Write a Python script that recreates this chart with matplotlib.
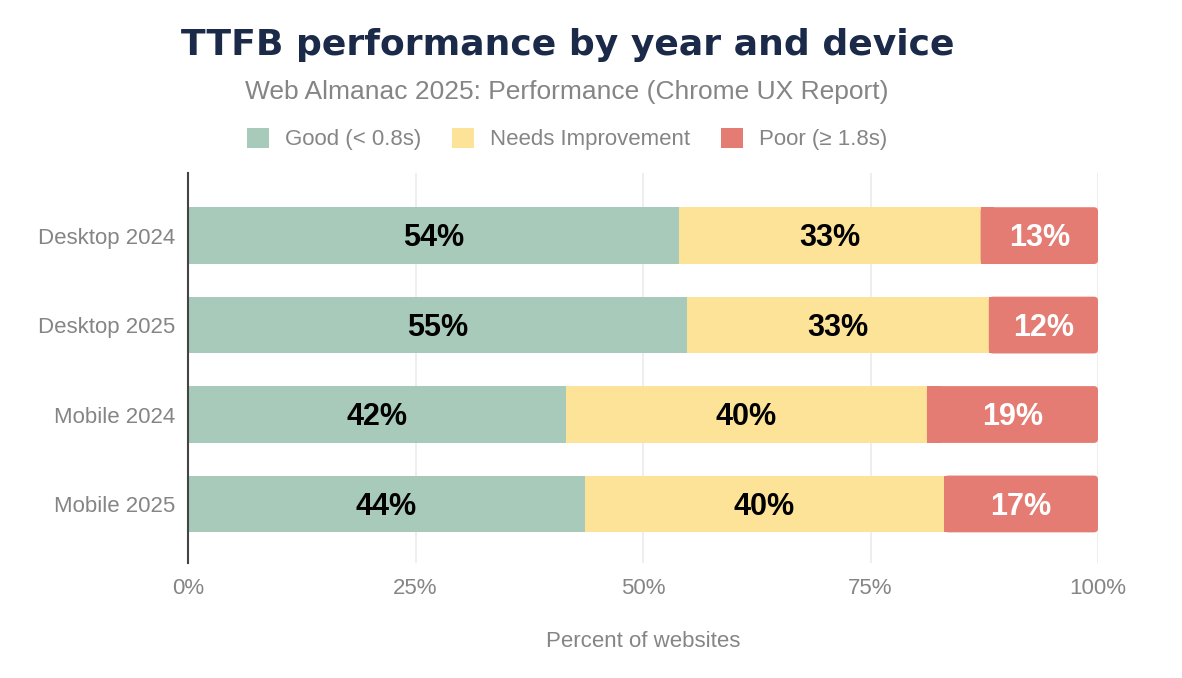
import numpy as np
import matplotlib
matplotlib.use("Agg")
import matplotlib.pyplot as plt
from matplotlib.patches import FancyBboxPatch, Patch

# data
categories = ["Desktop 2024", "Desktop 2025", "Mobile 2024", "Mobile 2025"]
good = [54.0, 54.8, 41.5, 43.6]
needs = [33.1, 33.2, 39.7, 39.5]
poor = [12.9, 12.0, 18.8, 16.9]
series_names = ["Good (< 0.8s)", "Needs Improvement", "Poor (≥ 1.8s)"]
colors = ["#a8cabb", "#fde397", "#e57c73"]
label_colors = ["black", "black", "white"]
xticks = [0, 25, 50, 75, 100]

plt.rcParams['font.family'] = ['Liberation Sans', 'DejaVu Sans']
grey = "#858585"

fig = plt.figure(figsize=(11.82, 6.78), dpi=100)
ax = fig.add_axes([188/1182, 1-563/678, 910/1182, 390/678])

bar_h = 0.635
y = np.arange(len(categories))
left = np.zeros(len(categories))
for i, (vals, col, lc) in enumerate(zip([good, needs, poor], colors, label_colors)):
    vals = np.array(vals)
    if i < 2:
        ax.barh(y, vals, left=left, height=bar_h, color=col, linewidth=0, zorder=2)
    else:
        # last segment: rounded right corners, square left side
        for yi, l, v in zip(y, left, vals):
            ax.add_patch(FancyBboxPatch((l, yi - bar_h/2), v, bar_h,
                                        boxstyle="round,pad=0,rounding_size=0.45",
                                        mutation_aspect=0.1, linewidth=0,
                                        facecolor=col, zorder=2))
        ax.barh(y, np.full(len(y), 1.5), left=left, height=bar_h, color=col,
                linewidth=0, zorder=2)
    for yi, l, v in zip(y, left, vals):
        ax.text(l + v/2, yi + 0.03, f"{round(v):.0f}%", ha='center', va='center',
                fontsize=22, fontweight='bold', color=lc, zorder=3)
    left = left + vals

ax.set_xlim(0, 100)
ax.set_ylim(3.66, -0.70)
ax.set_yticks(y)
ax.set_yticklabels(categories, fontsize=16, color=grey)
ax.set_xticks(xticks)
ax.set_xticklabels([f"{t}%" for t in xticks], fontsize=16, color=grey)
ax.tick_params(length=0)
ax.tick_params(axis='y', pad=9)
ax.tick_params(axis='x', pad=11)
ax.grid(axis='x', color="#ebebeb", linewidth=1.2, zorder=0)
for s in ['top', 'right', 'bottom']:
    ax.spines[s].set_visible(False)
ax.spines['left'].set_color("#444444")
ax.spines['left'].set_linewidth(1.5)
ax.spines['left'].set_zorder(4)
ax.set_xlabel("Percent of websites", fontsize=16, color=grey, labelpad=23)

fig.text(568/1182, 1-45/678, "TTFB performance by year and device", ha='center', va='center',
         fontsize=26, fontweight='bold', color="#1b2a48", family='DejaVu Sans')
fig.text(567/1182, 1-92/678, "Web Almanac 2025: Performance (Chrome UX Report)", ha='center', va='center',
         fontsize=19, color=grey)

handles = [Patch(facecolor=c, edgecolor='none') for c in colors]
leg = fig.legend(handles, series_names, loc='center', bbox_to_anchor=(567/1182, 1-139/678), ncol=3,
                 frameon=False, fontsize=16, handlelength=1.0, handleheight=1.0,
                 columnspacing=1.4, handletextpad=0.7)
for t in leg.get_texts():
    t.set_color(grey)

fig.savefig("out.png", dpi=100)
